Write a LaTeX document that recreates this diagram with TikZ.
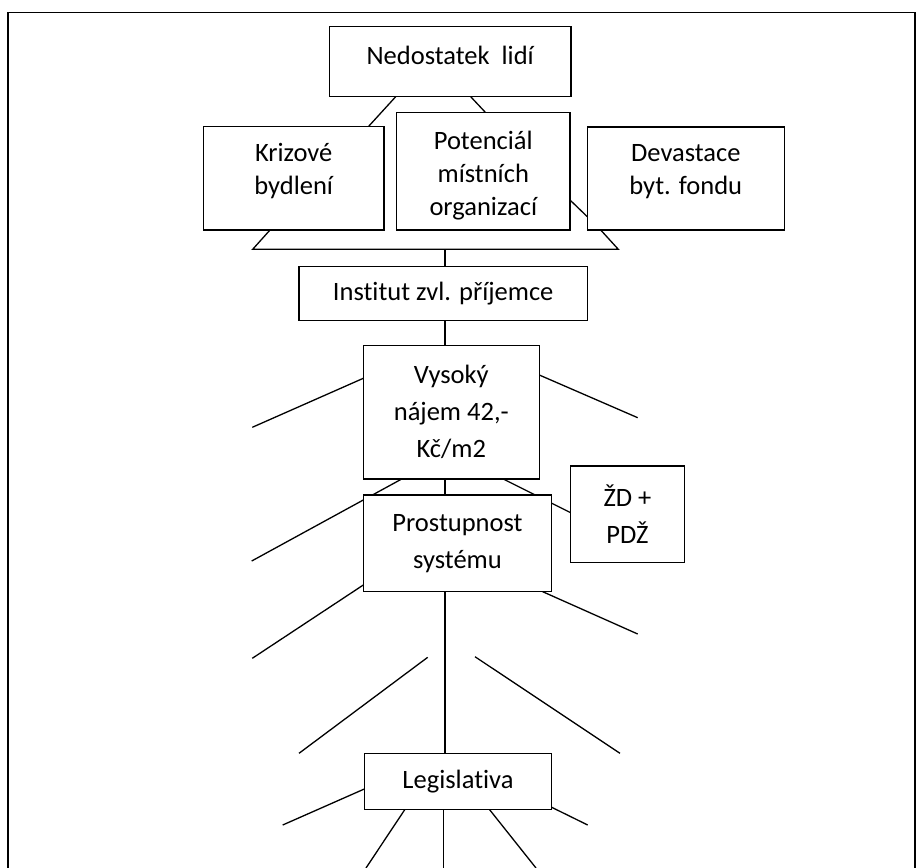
\documentclass[tikz,border=0pt]{standalone}
\usepackage{fontspec}
\setmainfont{Carlito}[Ligatures={NoCommon}]
\usetikzlibrary{backgrounds}
\tikzset{
  box/.style={draw, line width=1.5pt, fill=white, align=center, inner sep=0pt,
    font=\fontsize{26.5}{33}\selectfont},
  wide/.style={font=\fontsize{26.5}{37}\selectfont},
  link/.style={line width=1.3pt},
  frame/.style={line width=1.6pt}
}
\newcommand{\dn}[1]{\rule[-#1]{0pt}{0pt}}
\begin{document}
\begin{tikzpicture}[x=1pt,y=-1pt]
\useasboundingbox (0,0) rectangle (922,868);
% frame
\draw[frame] (8,868) -- (8,12.3) -- (915,12.3) -- (915,868);
% boxes
\node[box, minimum width=241.7pt, minimum height=70pt] (ned) at (450.2,61.7) {Nedostatek\ \ lidí\dn{13pt}};
\node[box, minimum width=180.7pt, minimum height=103.3pt] (kriz) at (293.7,178.3) {Krizové\\bydlení\dn{19pt}};
\node[box, minimum width=173.3pt, minimum height=117.3pt] (pot) at (483.3,171.3) {\rule{0pt}{26pt}Potenciál\\místních\\organizací};
\node[box, minimum width=197pt, minimum height=103pt] (dev) at (685.8,178.5) {Devastace\\byt. fondu\dn{19pt}};
\node[box, minimum width=288.3pt, minimum height=54pt] (inst) at (443.2,293.7) {Institut zvl. příjemce};
\node[box, wide, minimum width=176pt, minimum height=133.3pt] (vys) at (451.3,412.3) {Vysoký\\nájem 42,-\\Kč/m2};
\node[box, wide, minimum width=188.3pt, minimum height=96.7pt] (pros) at (457.5,543.3) {Prostupnost\\systému};
\node[box, wide, minimum width=113.7pt, minimum height=96.3pt] (zd) at (627.5,514.2) {ŽD +\\PDŽ};
\node[box, minimum width=187.3pt, minimum height=56pt] (leg) at (458,781.3) {Legislativa};
% connector end points
\coordinate (nedL) at (395.7,96.7);   \coordinate (krizT) at (368.3,126.7);
\coordinate (nedR) at (470.7,96.7);   \coordinate (potT) at (485.7,112.7);
\coordinate (potR) at (570,200);      \coordinate (devL) at (587.3,216.7);
\coordinate (krizB) at (270,230);     \coordinate (trL) at (252.7,249.3);
\coordinate (trR) at (618.3,249.3);   \coordinate (devB) at (600.7,230);
\coordinate (trM) at (445,249.3);     \coordinate (instT) at (445,266.7);
\coordinate (instB) at (445,320.7);   \coordinate (vysT) at (445,345.7);
\coordinate (vysL) at (363.3,378.3);  \coordinate (e1) at (252.3,427.3);
\coordinate (vysR) at (539.3,375);    \coordinate (e2) at (637.7,417.7);
\coordinate (vysB) at (445,479);      \coordinate (prosT) at (445,495);
\coordinate (vysBL) at (401.7,479);   \coordinate (e3) at (251.7,561);
\coordinate (vysBR) at (503.3,479);   \coordinate (zdL) at (570.7,512.7);
\coordinate (prosL) at (363.3,585);   \coordinate (e4) at (252.3,658.3);
\coordinate (prosR) at (542.7,591.7); \coordinate (e5) at (637.7,634);
\coordinate (prosB) at (445,591.7);   \coordinate (legT) at (445,753.3);
\coordinate (f1a) at (427.7,657.3);   \coordinate (f1b) at (299,753.3);
\coordinate (f2a) at (475,656.7);     \coordinate (f2b) at (620,753.3);
\coordinate (legL) at (364.3,789);    \coordinate (e6) at (282.7,825);
\coordinate (legR) at (551.7,807.3);  \coordinate (e7) at (587.7,825);
\coordinate (legB1) at (405,809.3);   \coordinate (e8) at (366,868);
\coordinate (legB2) at (443.3,809.3); \coordinate (e9) at (443.3,868);
\coordinate (legB3) at (489.3,809.3); \coordinate (e10) at (536,868);
\begin{scope}[on background layer]
\draw[link] (nedL) -- (krizT);
\draw[link] (nedR) -- (potT);
\draw[link] (potR) -- (devL);
\draw[link] (krizB) -- (trL) -- (trR) -- (devB);
\draw[link] (trM) -- (instT);
\draw[link] (instB) -- (vysT);
\draw[link] (vysL) -- (e1);
\draw[link] (vysR) -- (e2);
\draw[link] (vysB) -- (prosT);
\draw[link] (vysBL) -- (e3);
\draw[link] (vysBR) -- (zdL);
\draw[link] (prosL) -- (e4);
\draw[link] (prosR) -- (e5);
\draw[link] (prosB) -- (legT);
\draw[link] (f1a) -- (f1b);
\draw[link] (f2a) -- (f2b);
\draw[link] (legL) -- (e6);
\draw[link] (legR) -- (e7);
\draw[link] (legB1) -- (e8);
\draw[link] (legB2) -- (e9);
\draw[link] (legB3) -- (e10);
\end{scope}
\end{tikzpicture}
\end{document}
